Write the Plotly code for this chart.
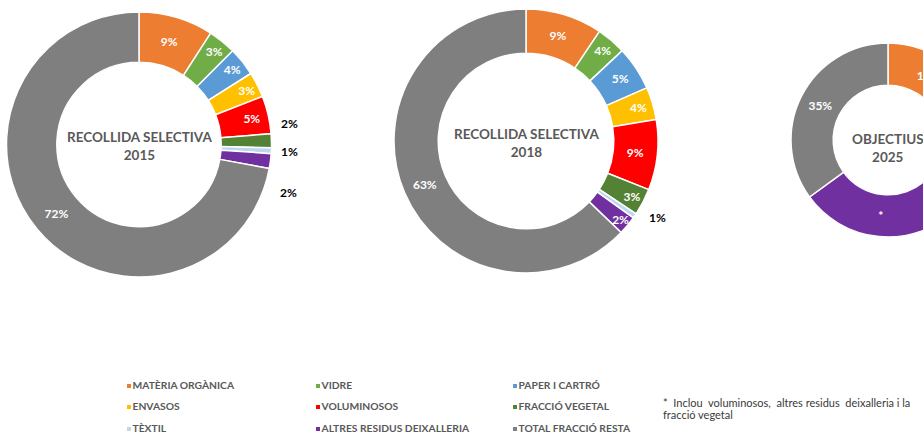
import math
import plotly.graph_objects as go

# ---------------- data ----------------
categories = ["MATÈRIA ORGÀNICA", "VIDRE", "PAPER I CARTRÓ", "ENVASOS", "VOLUMINOSOS",
              "FRACCIÓ VEGETAL", "TÈXTIL", "ALTRES RESIDUS DEIXALLERIA", "TOTAL FRACCIÓ RESTA"]
colors = ["#ED7D31", "#70AD47", "#5B9BD5", "#FFC000", "#FF0000",
          "#548235", "#BDD7EE", "#7030A0", "#7F7F7F"]

values_2015 = [9.1, 3.4, 3.5, 3.1, 4.6, 1.7, 0.7, 1.8, 72.1]
values_2018 = [9.4, 3.6, 5.4, 4.0, 8.6, 3.3, 0.6, 2.3, 62.8]

categories_2025 = ["MATÈRIA ORGÀNICA", "VIDRE", "PAPER I CARTRÓ", "ENVASOS", "ALTRES *", "TOTAL FRACCIÓ RESTA"]
colors_2025 = ["#ED7D31", "#70AD47", "#5B9BD5", "#FFC000", "#7030A0", "#7F7F7F"]
values_2025 = [18, 7, 9, 4, 27, 35]

titles = ["RECOLLIDA SELECTIVA<br>2015", "RECOLLIDA SELECTIVA<br>2018", "OBJECTIUS<br>2025"]
footnote = ["*&nbsp; Inclou&nbsp; voluminosos,&nbsp; altres residus&nbsp; deixalleria i la",
            "fracció vegetal"]

# ---------------- layout helpers ----------------
W, H = 1000, 435
FONT = "Lato"


def dom(cx, cy, r):
    return dict(x=[(cx - r) / W, (cx + r) / W], y=[(H - cy - r) / H, (H - cy + r) / H])


fig = go.Figure()

pct = "%{percent:.0%}"
pies = [
    dict(vals=values_2015, labs=categories, cols=colors, c=(139, 144.5, 132.5), hole=0.62,
         outside={5: (0, -17), 6: (0, 0), 7: (0, 29)}, tmpl=[pct] * 9, tc=(139, 146)),
    dict(vals=values_2018, labs=categories, cols=colors, c=(526, 141, 132), hole=0.665,
         outside={6: (8, -9)}, tmpl=[pct] * 9, tc=(526, 143)),
    dict(vals=values_2025, labs=categories_2025, cols=colors_2025, c=(888, 140, 97), hole=0.565,
         outside={}, tmpl=[pct, pct, pct, pct, "*", pct], tc=(888, 147.5)),
]

for k, p in enumerate(pies):
    n = len(p["vals"])
    fig.add_trace(go.Pie(
        labels=p["labs"], values=p["vals"], hole=p["hole"], sort=False,
        direction="clockwise", rotation=0, domain=dom(*p["c"]),
        marker=dict(colors=p["cols"], line=dict(color="white", width=1.5)),
        texttemplate=["" if i in p["outside"] else p["tmpl"][i] for i in range(n)],
        textposition="inside",
        insidetextorientation="horizontal",
        insidetextfont=dict(family=FONT, size=12, color="white", weight="bold"),
        showlegend=False, hoverinfo="label+percent",
    ))
    # outside labels (small slices), placed from each slice's mid angle
    total = sum(p["vals"])
    cx, cy, r = p["c"]
    cum = 0
    for i, v in enumerate(p["vals"]):
        if i in p["outside"]:
            theta = 2 * math.pi * (cum + v / 2) / total
            dx, dy = p["outside"][i]
            rr = r + 18
            fig.add_annotation(
                x=cx + rr * math.sin(theta) + dx, y=cy - rr * math.cos(theta) + dy,
                xref="x", yref="y", text=f"{round(100 * v / total)}%", showarrow=False,
                font=dict(family=FONT, size=12, color="black", weight="bold"))
        cum += v
    fig.add_annotation(x=p["tc"][0], y=p["tc"][1], xref="x", yref="y",
                       text=titles[k], showarrow=False,
                       font=dict(family=FONT, size=13.5, color="#595959", weight="bold"))

# ---------------- legend (3 x 3 grid) ----------------
col_x = [129, 318, 515]
row_y = [386, 407, 429]
leg_x = [col_x[i % 3] for i in range(len(categories))]
leg_y = [row_y[i // 3] for i in range(len(categories))]
fig.add_trace(go.Scatter(
    x=leg_x, y=leg_y, mode="markers+text", text=categories, textposition="middle right",
    marker=dict(symbol="square", size=4, color=colors),
    textfont=dict(family=FONT, size=10.3, color="#595959", weight="bold"),
    showlegend=False, hoverinfo="skip", cliponaxis=False,
))

for i, line in enumerate(footnote):
    fig.add_annotation(x=661, y=402 + 12.5 * i, xref="x", yref="y", text=line,
                       showarrow=False, xanchor="left", yanchor="middle",
                       font=dict(family=FONT, size=11, color="#3A3A3A"))

fig.update_layout(
    width=W, height=H, margin=dict(l=0, r=0, t=0, b=0),
    paper_bgcolor="white", plot_bgcolor="white",
    uniformtext=dict(minsize=12, mode="show"),
    xaxis=dict(range=[0, W], visible=False, domain=[0, 1]),
    yaxis=dict(range=[H, 0], visible=False, domain=[0, 1]),
)

fig.write_html("out.html", config={"displayModeBar": False},
               post_script="document.body.style.margin='0';document.body.style.overflow='hidden';")
